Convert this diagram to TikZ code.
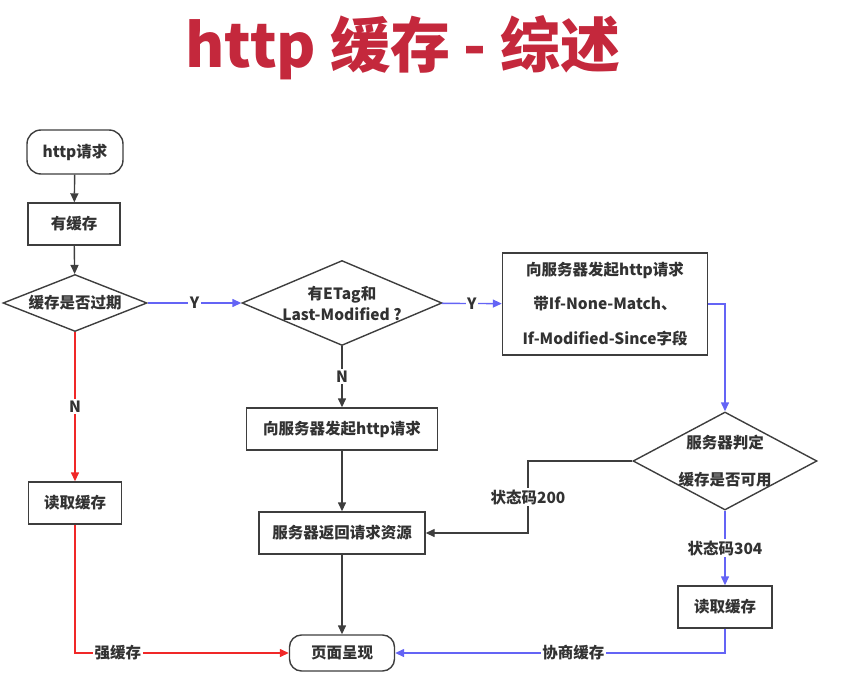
\documentclass[tikz,border=0pt]{standalone}
\usepackage{fontspec}
\setmainfont{Noto Sans CJK SC}
\usepackage{xcolor}
\usetikzlibrary{arrows.meta,shapes.geometric}
\definecolor{txt}{RGB}{50,50,50}
\definecolor{edge}{RGB}{62,62,62}
\definecolor{blueln}{RGB}{100,100,245}
\definecolor{redln}{RGB}{240,40,40}
\definecolor{titlered}{RGB}{196,40,60}
\begin{document}
\begin{tikzpicture}[
  x=1pt,y=-1pt,
  every node/.style={font=\fontsize{15.5}{19}\selectfont\bfseries,text=txt,align=center},
  box/.style={draw=edge,line width=1.4pt,inner sep=0pt,minimum height=42pt},
  term/.style={box,rounded corners=14pt},
  decide/.style={diamond,draw=edge,line width=1.4pt,inner sep=0pt},
  tag/.style={fill=white,inner sep=1.5pt},
  flow/.style={draw=edge,line width=1.4pt,-{Triangle[length=9pt,width=8pt]}},
  yes/.style={flow,draw=blueln},
  no/.style={flow,draw=redln}
]
\useasboundingbox (0,0) rectangle (846,690);
\node[font=\fontsize{60}{66}\selectfont\bfseries,text=titlered] (title) at (403,48)
  {http 缓存 - 综述};
% left column
\node[term,minimum width=96pt,minimum height=44pt] (req) at (75,152) {http请求};
\node[box,minimum width=92pt] (has) at (74,224) {有缓存};
\node[decide,minimum width=144pt,minimum height=57pt] (expired) at (75,303) {};
\node (expiredtext) at (expired) {缓存是否过期};
\node[box,minimum width=93pt] (readA) at (75,503) {读取缓存};
% middle column
\node[decide,minimum width=200pt,minimum height=85pt] (etag) at (342,303) {};
\node[font=\fontsize{15.5}{21}\selectfont\bfseries] (etagtext) at (etag)
  {有ETag和\\Last-Modified ?};
\node[box,minimum width=191pt] (ask) at (342,429) {向服务器发起http请求};
\node[box,minimum width=166pt] (ret) at (342,533) {服务器返回请求资源};
\node[term,minimum width=105pt,minimum height=36pt,rounded corners=12pt] (page) at (342,653) {页面呈现};
% right column
\node[box,minimum width=205pt,minimum height=102pt,
      font=\fontsize{15.5}{34.5}\selectfont\bfseries] (cond) at (605,304)
  {向服务器发起http请求\\带If-None-Match、\\If-Modified-Since字段};
\node[decide,minimum width=184pt,minimum height=98pt] (judge) at (725,461) {};
\node[font=\fontsize{15.5}{37}\selectfont\bfseries] (judgetext) at (judge)
  {服务器判定\\缓存是否可用};
\node[box,minimum width=94pt] (readB) at (725,607) {读取缓存};
\coordinate (bend) at (528,497);
% connectors
\draw[flow] (req) -- (has);
\draw[flow] (has) -- (expired);
\draw[yes] (expired) -- node[tag]{Y} (etag);
\draw[yes] (etag) -- node[tag]{Y} (cond);
\draw[flow] (etag) -- node[tag]{N} (ask);
\draw[flow] (ask) -- (ret);
\draw[flow] (ret) -- (page);
\draw[no] (expired) -- node[tag]{N} (readA);
\draw[no] (readA) |- node[tag,pos=0.6]{强缓存} (page);
\draw[yes] (cond.east) -| (judge.north);
\draw[flow] (judge.west) -| (bend) node[tag]{状态码200} |- (ret.east);
\draw[yes] (judge) -- node[tag]{状态码304} (readB);
\draw[yes] (readB) |- node[tag,pos=0.73]{协商缓存} (page);
\end{tikzpicture}
\end{document}
